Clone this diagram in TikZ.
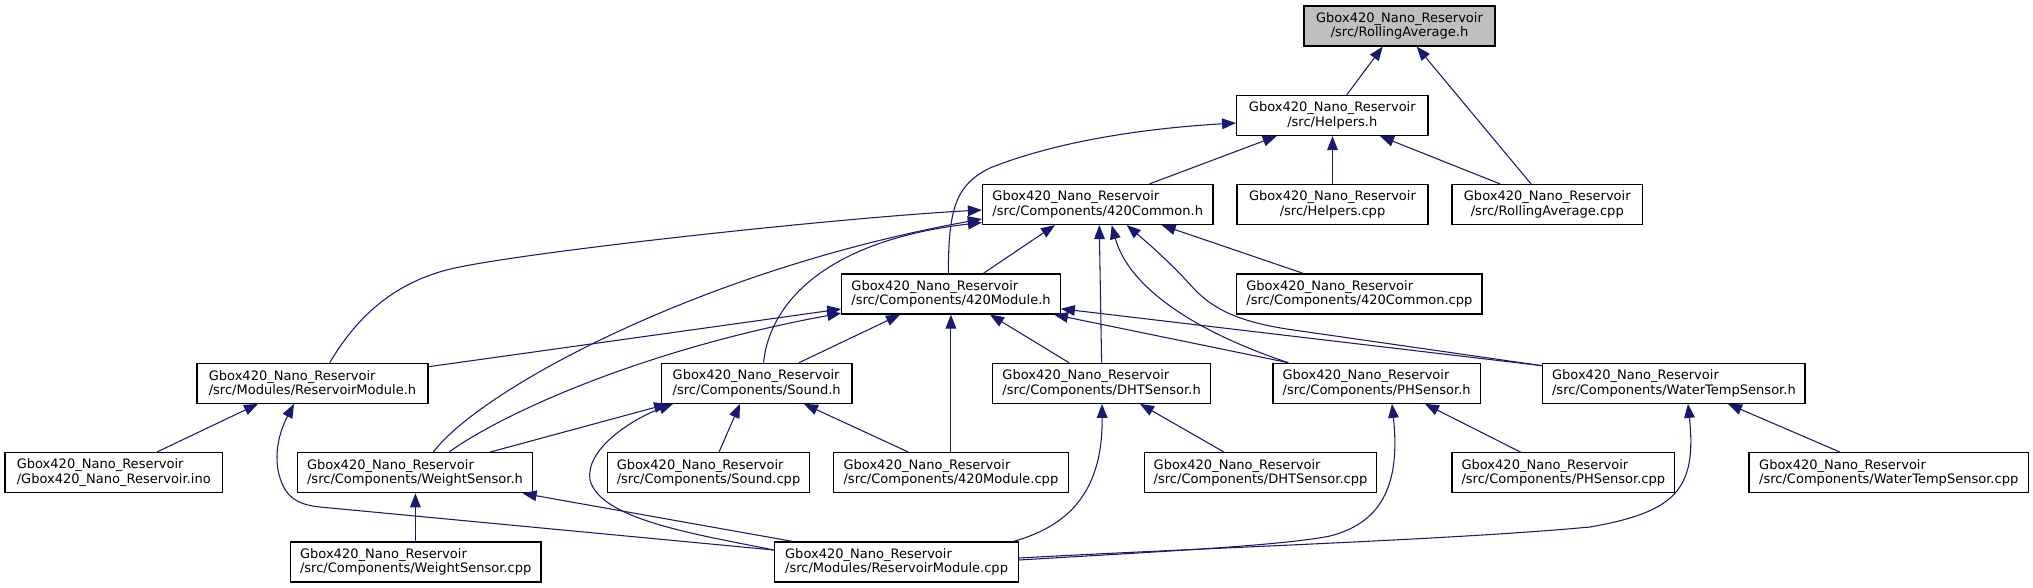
\documentclass[tikz,border=0pt]{standalone}
\usepackage{fontspec}
\setmainfont{DejaVu Sans}
\usetikzlibrary{arrows.meta,calc}
\definecolor{edgeblue}{HTML}{191970}
\definecolor{rootgray}{HTML}{BFBFBF}
\tikzset{
  box/.style={draw=black, line width=0.9pt, fill=white, minimum height=30pt, inner sep=0pt,
    font=\fontsize{9.77pt}{10.7pt}\selectfont},
  lbox/.style={box, align=left},
  cbox/.style={box, align=center},
  bw/.style={minimum width=#1*0.75pt},
  conn/.style={draw=edgeblue, line width=0.8pt, -{Triangle[length=10.5pt,width=8pt]}},
}
\begin{document}
\begin{tikzpicture}[x=0.75pt,y=-0.75pt]
\fill[white] (0,0) rectangle (2033,588);
\useasboundingbox (0,0) rectangle (2033,588);
% nodes
\node[cbox,bw=191,fill=rootgray] (RAh) at (1399.5,26) {Gbox420\_Nano\_Reservoir\\/src/RollingAverage.h};
\node[cbox,bw=191.3] (Helh) at (1332.3,115.5) {Gbox420\_Nano\_Reservoir\\/src/Helpers.h};
\node[lbox,bw=230.5] (Comh) at (1097.75,204.5) {Gbox420\_Nano\_Reservoir\\/src/Components/420Common.h};
\node[cbox,bw=191] (Helcpp) at (1332.5,204.5) {Gbox420\_Nano\_Reservoir\\/src/Helpers.cpp};
\node[cbox,bw=190.5] (RAcpp) at (1547.25,204.5) {Gbox420\_Nano\_Reservoir\\/src/RollingAverage.cpp};
\node[lbox,bw=218.5] (Modh) at (951.05,294) {Gbox420\_Nano\_Reservoir\\/src/Components/420Module.h};
\node[lbox,bw=245.3] (Comcpp) at (1359.35,294) {Gbox420\_Nano\_Reservoir\\/src/Components/420Common.cpp};
\node[lbox,bw=231] (RMh) at (312.5,383.3) {Gbox420\_Nano\_Reservoir\\/src/Modules/ReservoirModule.h};
\node[lbox,bw=190.6] (Sndh) at (756.7,383.3) {Gbox420\_Nano\_Reservoir\\/src/Components/Sound.h};
\node[lbox,bw=218.4] (DHTh) at (1101.6,383.3) {Gbox420\_Nano\_Reservoir\\/src/Components/DHTSensor.h};
\node[lbox,bw=207.3] (PHh) at (1376.65,383.3) {Gbox420\_Nano\_Reservoir\\/src/Components/PHSensor.h};
\node[lbox,bw=262.2] (WTh) at (1673.9,383.3) {Gbox420\_Nano\_Reservoir\\/src/Components/WaterTempSensor.h};
\node[lbox,bw=217.5] (ino) at (113.75,472.7) {Gbox420\_Nano\_Reservoir\\/Gbox420\_Nano\_Reservoir.ino};
\node[lbox,bw=235] (WSh) at (415,472.7) {Gbox420\_Nano\_Reservoir\\/src/Components/WeightSensor.h};
\node[lbox,bw=202] (Sndcpp) at (708.5,472.7) {Gbox420\_Nano\_Reservoir\\/src/Components/Sound.cpp};
\node[lbox,bw=235] (Modcpp) at (950.9,472.7) {Gbox420\_Nano\_Reservoir\\/src/Components/420Module.cpp};
\node[lbox,bw=232.5] (DHTcpp) at (1260.55,472.7) {Gbox420\_Nano\_Reservoir\\/src/Components/DHTSensor.cpp};
\node[lbox,bw=222.6] (PHcpp) at (1563.3,472.7) {Gbox420\_Nano\_Reservoir\\/src/Components/PHSensor.cpp};
\node[lbox,bw=279.4] (WTcpp) at (1888.7,472.7) {Gbox420\_Nano\_Reservoir\\/src/Components/WaterTempSensor.cpp};
\node[lbox,bw=250.6] (WScpp) at (415.7,562) {Gbox420\_Nano\_Reservoir\\/src/Components/WeightSensor.cpp};
\node[lbox,bw=244.1] (RMcpp) at (896.55,562) {Gbox420\_Nano\_Reservoir\\/src/Modules/ReservoirModule.cpp};
% edges
\draw[conn] ($(Helh.north)+(14.4,0)$) -- ($(RAh.south)+(-16.8,0)$);
\draw[conn] ($(RAcpp.north)+(-16.25,0)$) -- ($(RAh.south)+(17.2,0)$);
\draw[conn] ($(Comh.north)+(51.75,0)$) -- ($(Helh.south)+(-55.6,0)$);
\draw[conn] (Helcpp.north) -- (Helcpp.north |- Helh.south);
\draw[conn] ($(RAcpp.north)+(-47.25,0)$) -- ($(Helh.south)+(47.7,0)$);
\draw[conn] ($(Modh.north)+(-2.7,0)$) .. controls (948.5,210) and (955,185) .. (990,168) .. controls (1060,140) and (1150,128) .. ($(Helh.west)+(0,7.5)$);
\draw[conn] ($(Modh.north)+(32.25,0)$) -- ($(Comh.south)+(-42.75,0)$);
\draw[conn] ($(Comcpp.north)+(-56.05,0)$) -- ($(Comh.south)+(63.95,0)$);
\draw[conn] ($(RMh.north)+(17.2,0)$) .. controls (355,320) and (390,285) .. (446.5,270) .. controls (506.5,254) and (833,218) .. ($(Comh.west)+(0,5.5)$);
\draw[conn] ($(WSh.north)+(18.3,0)$) .. controls (480,390) and (700,270) .. ($(Comh.west)+(0,14.5)$);
\draw[conn] ($(Sndh.north)+(6.8,0)$) .. controls (770,300) and (830,240) .. ($(Comh.west)+(0,18)$);
\draw[conn] (DHTh.north) -- ($(Comh.south)+(1.5,0)$);
\draw[conn] ($(PHh.north)+(-88.35,0)$) .. controls (1190,330) and (1128,285) .. ($(Comh.south)+(13.95,0)$);
\draw[conn] ($(WTh.north west)+(0,3)$) -- (1290,329.5) .. controls (1240,322) and (1215,310) .. (1195,290) .. controls (1170,262) and (1150,245) .. ($(Comh.south)+(28.95,0)$);
\draw[conn] ($(RMh.east)+(0,-16.6)$) -- ($(Modh.west)+(0,15)$);
\draw[conn] ($(WSh.north)+(34,0)$) .. controls (500,415) and (640,350) .. ($(Modh.south west)+(0,-1.5)$);
\draw[conn] ($(Sndh.north)+(42.3,0)$) -- ($(Modh.south)+(-51,0)$);
\draw[conn] (Modcpp.north) -- (Modcpp.north |- Modh.south);
\draw[conn] ($(DHTh.north)+(-32.6,0)$) -- ($(Modh.south)+(38.95,0)$);
\draw[conn] ($(PHh.north)+(-88.35,0)$) -- ($(Modh.south)+(103,0)$);
\draw[conn] ($(WTh.north west)+(0,3)$) -- ($(Modh.east)+(0,14.8)$);
\draw[conn] ($(ino.north)+(43,0)$) -- ($(RMh.south)+(-54.5,0)$);
\draw[conn] ($(RMcpp.west)+(0,-12)$) -- (320,507) .. controls (295,504.6) and (283,495) .. (278,470) .. controls (274,445) and (283,425) .. ($(RMh.south)+(-18.5,0)$);
\draw[conn] ($(WSh.north)+(75,0)$) -- ($(Sndh.south)+(-88.7,0)$);
\draw[conn] ($(Sndcpp.north)+(10.5,0)$) -- ($(Sndh.south)+(-16.7,0)$);
\draw[conn] ($(Modcpp.north)+(-42.5,0)$) -- ($(Sndh.south)+(47.3,0)$);
\draw[conn] ($(RMcpp.west)+(0,-12)$) .. controls (700,535) and (600,520) .. (590,480) .. controls (585,450) and (630,420) .. ($(Sndh.south)+(-83.7,0)$);
\draw[conn] ($(DHTcpp.north)+(-36.5,0)$) -- ($(DHTh.south)+(38.4,0)$);
\draw[conn] ($(RMcpp.north east)+(-5.6,0)$) .. controls (1060,528) and (1103,500) .. ($(DHTh.south)+(0.4,0)$);
\draw[conn] ($(PHcpp.north)+(-42.8,0)$) -- ($(PHh.south)+(48.35,0)$);
\draw[conn] ($(RMcpp.east)+(0,-2)$) .. controls (1150,552) and (1280,546) .. (1330,536) .. controls (1385,522) and (1400,480) .. ($(PHh.south)+(15.35,0)$);
\draw[conn] ($(WTcpp.north)+(-48.7,0)$) -- ($(WTh.south)+(54.1,0)$);
\draw[conn] ($(RMcpp.east)+(0,-4)$) .. controls (1200,548) and (1450,540) .. (1590,527) .. controls (1675,512) and (1697,490) .. ($(WTh.south)+(14.1,0)$);
\draw[conn] ($(WScpp.north)+(-0.3,0)$) -- ($(WScpp.north |- WSh.south)+(-0.3,0)$);
\draw[conn] ($(RMcpp.north)+(-103.9,0)$) -- ($(WSh.south)+(107.6,0)$);
\end{tikzpicture}
\end{document}
